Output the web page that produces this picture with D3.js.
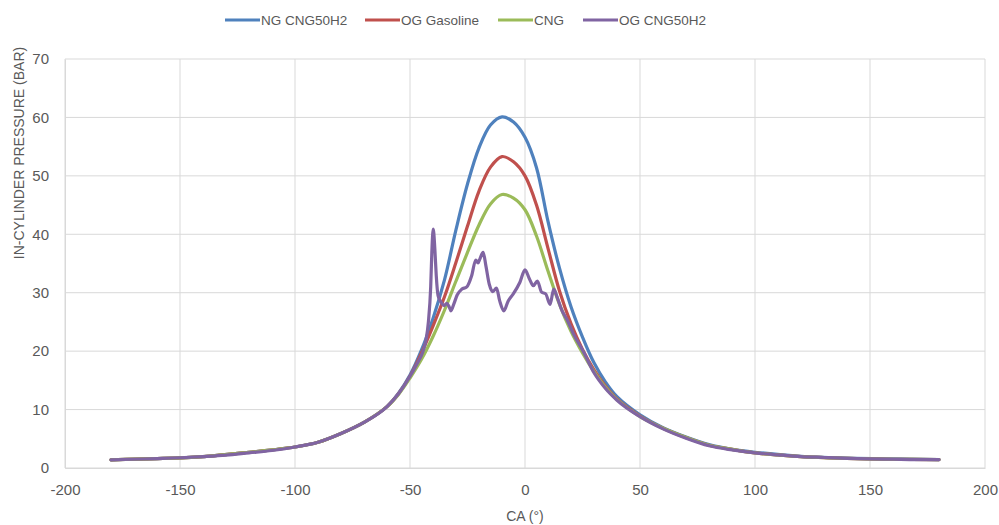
<!DOCTYPE html>
<html>
<head>
<meta charset="utf-8">
<script src="https://cdn.jsdelivr.net/npm/d3@7"></script>
<style>
	body { margin: 0; background: #fff; }
	.chart text { font-family: "Liberation Sans", Arial, sans-serif; fill: #595959; }
</style>
</head>
<body>
<div class="chart"></div>
<script>
// crank angle grid shared by the three smooth curves
const ca = [-180, -160, -140, -120, -100, -90, -80, -70, -60, -55, -50, -45, -40, -35, -30, -25, -20, -15, -10, -5,
	0, 5, 10, 15, 20, 25, 30, 35, 40, 50, 60, 70, 80, 90, 100, 120, 140, 160, 180];

const ngCng50h2 = [1.4, 1.6, 1.95, 2.7, 3.6, 4.4, 5.9, 7.8, 10.5, 12.8, 15.9, 20.2, 25.6, 32.2, 40.8, 48.6, 54.8, 58.7, 60.1, 59.2,
	56.6, 51.4, 42.2, 34.2, 27.6, 22.4, 18.0, 14.7, 12.2, 9.1, 6.9, 5.3, 4.0, 3.2, 2.7, 2.0, 1.7, 1.55, 1.45];

const ogGasoline = [1.4, 1.6, 1.95, 2.7, 3.6, 4.4, 5.9, 7.8, 10.5, 12.7, 15.7, 19.7, 24.3, 29.3, 35.2, 41.4, 47.4, 51.5, 53.3, 52.4,
	50.0, 45.0, 37.6, 30.3, 24.7, 20.3, 16.8, 14.0, 11.8, 8.9, 6.8, 5.2, 3.9, 3.2, 2.6, 1.95, 1.65, 1.5, 1.45];

const cng = [1.4, 1.6, 1.95, 2.7, 3.6, 4.4, 5.9, 7.8, 10.5, 12.6, 15.4, 18.6, 22.5, 27.0, 32.0, 36.9, 41.6, 45.2, 46.8, 46.2,
	44.2, 39.7, 33.7, 28.0, 23.4, 19.7, 16.5, 13.8, 11.7, 8.8, 6.8, 5.2, 3.9, 3.2, 2.6, 1.95, 1.65, 1.5, 1.45];

// OG CNG50H2 has its own, finer angle grid (knock oscillations)
const caOg = [-180, -170, -160, -150, -140, -130, -120, -110, -100, -90, -80, -70, -60, -55, -50, -47, -44.5, -43, -42, -41,
	-40.5, -39.9, -39.2, -38.6, -37.8, -36.5, -35.2, -34, -33, -32.2, -31, -29.5, -27.5, -25.3, -23.2, -21.4, -20.4, -19.6, -18.2, -17,
	-15.5, -14, -12.4, -11, -9.2, -7.3, -5.1, -2.2, 0, 1.9, 3.6, 5.4, 7.2, 9, 10.9, 12.5, 14, 16, 18.5, 21,
	25.4, 30, 35, 40, 50, 60, 70, 80, 90, 100, 110, 120, 130, 140, 150, 160, 170, 180];
const ogCng50h2 = [1.4, 1.5, 1.6, 1.75, 1.95, 2.2, 2.6, 3.0, 3.6, 4.4, 5.9, 7.8, 10.5, 12.7, 15.7, 17.8, 19.8, 22, 25, 31,
	37, 40.9, 37.5, 33, 29.5, 28.4, 27.8, 28.2, 27.6, 26.9, 28, 29.6, 30.6, 31, 32.9, 35.6, 35.1, 35.8, 36.9, 34.6,
	31.4, 30.2, 30.8, 28.6, 26.9, 28.6, 29.8, 31.8, 33.9, 32.4, 31.2, 32, 30.1, 29.8, 28, 30.6, 29.2, 27, 25.2, 23,
	19.9, 16.3, 13.6, 11.6, 8.8, 6.7, 5.1, 3.8, 3.1, 2.6, 2.25, 1.95, 1.8, 1.65, 1.55, 1.5, 1.45, 1.45];

const seriesNames = ["NG CNG50H2", "OG Gasoline", "CNG", "OG CNG50H2"];
const seriesColors = ["#4f81bd", "#c0504d", "#9bbb59", "#8064a2"];
const xTicks = [-200, -150, -100, -50, 0, 50, 100, 150, 200];
const yTicks = [0, 10, 20, 30, 40, 50, 60, 70];

const series = [
	{ name: seriesNames[0], x: ca, y: ngCng50h2, smooth: true },
	{ name: seriesNames[1], x: ca, y: ogGasoline, smooth: true },
	{ name: seriesNames[2], x: ca, y: cng, smooth: true },
	{ name: seriesNames[3], x: caOg, y: ogCng50h2, smooth: false },
];

const W = 999, H = 525;
const margin = { top: 59, right: 14, bottom: 57, left: 65 };
const width = W - margin.left - margin.right;
const height = H - margin.top - margin.bottom;

const colorScale = d3.scaleOrdinal().domain(seriesNames).range(seriesColors);
const xScale = d3.scaleLinear().domain([-200, 200]).range([0, width]);
const yScale = d3.scaleLinear().domain([0, 70]).range([height, 0]);

const svg = d3.select(".chart")
	.append("svg")
	.attr("width", W)
	.attr("height", H);

const g = svg.append("g")
	.attr("transform", `translate(${margin.left},${margin.top})`);

// gridlines
g.append("g")
	.selectAll("line")
	.data(yTicks)
	.join("line")
	.attr("x1", 0)
	.attr("x2", width)
	.attr("y1", (d) => yScale(d))
	.attr("y2", (d) => yScale(d))
	.attr("stroke", "#d9d9d9")
	.attr("stroke-width", 1);

g.append("g")
	.selectAll("line")
	.data(xTicks)
	.join("line")
	.attr("x1", (d) => xScale(d))
	.attr("x2", (d) => xScale(d))
	.attr("y1", 0)
	.attr("y2", height)
	.attr("stroke", "#d9d9d9")
	.attr("stroke-width", 1);

// axes (labels only, Excel style, plain hyphen for minus)
const xAxis = g.append("g")
	.attr("transform", `translate(0,${height})`)
	.call(d3.axisBottom(xScale).tickValues(xTicks).tickFormat((d) => String(d)).tickSize(0).tickPadding(16));
xAxis.select(".domain").attr("stroke", "#d9d9d9");
xAxis.selectAll("text").style("font-size", "15px");

const yAxis = g.append("g")
	.call(d3.axisLeft(yScale).tickValues(yTicks).tickFormat((d) => String(d)).tickSize(0).tickPadding(16));
yAxis.select(".domain").attr("stroke", "#d9d9d9");
yAxis.selectAll("text").style("font-size", "15px");

// lines
const smoothLine = d3.line()
	.x((d) => xScale(d[0]))
	.y((d) => yScale(d[1]))
	.curve(d3.curveCatmullRom.alpha(0.5));
const roughLine = d3.line()
	.x((d) => xScale(d[0]))
	.y((d) => yScale(d[1]))
	.curve(d3.curveMonotoneX);

g.append("g")
	.selectAll("path")
	.data(series)
	.join("path")
	.attr("d", (s) => (s.smooth ? smoothLine : roughLine)(s.x.map((x, i) => [x, s.y[i]])))
	.attr("fill", "none")
	.attr("stroke", (s) => colorScale(s.name))
	.attr("stroke-width", 3.2)
	.attr("stroke-linejoin", "round")
	.attr("stroke-linecap", "round");

// axis titles
svg.append("text")
	.attr("x", margin.left + xScale(0))
	.attr("y", 521)
	.attr("text-anchor", "middle")
	.style("font-size", "14px")
	.text("CA (°)");

svg.append("text")
	.attr("transform", "translate(24,153) rotate(-90)")
	.attr("text-anchor", "middle")
	.style("font-size", "14px")
	.text("IN-CYLINDER PRESSURE (BAR)");

// legend
const legendX = [225, 365, 498, 583];
const legend = svg.append("g")
	.selectAll("g")
	.data(seriesNames)
	.join("g")
	.attr("transform", (d, i) => `translate(${legendX[i]},20)`);

legend.append("line")
	.attr("x1", 0)
	.attr("x2", 35)
	.attr("stroke", (d) => colorScale(d))
	.attr("stroke-width", 3);

legend.append("text")
	.attr("x", 36)
	.attr("dy", "0.35em")
	.style("font-size", "13.5px")
	.text((d) => d);
</script>
</body>
</html>
